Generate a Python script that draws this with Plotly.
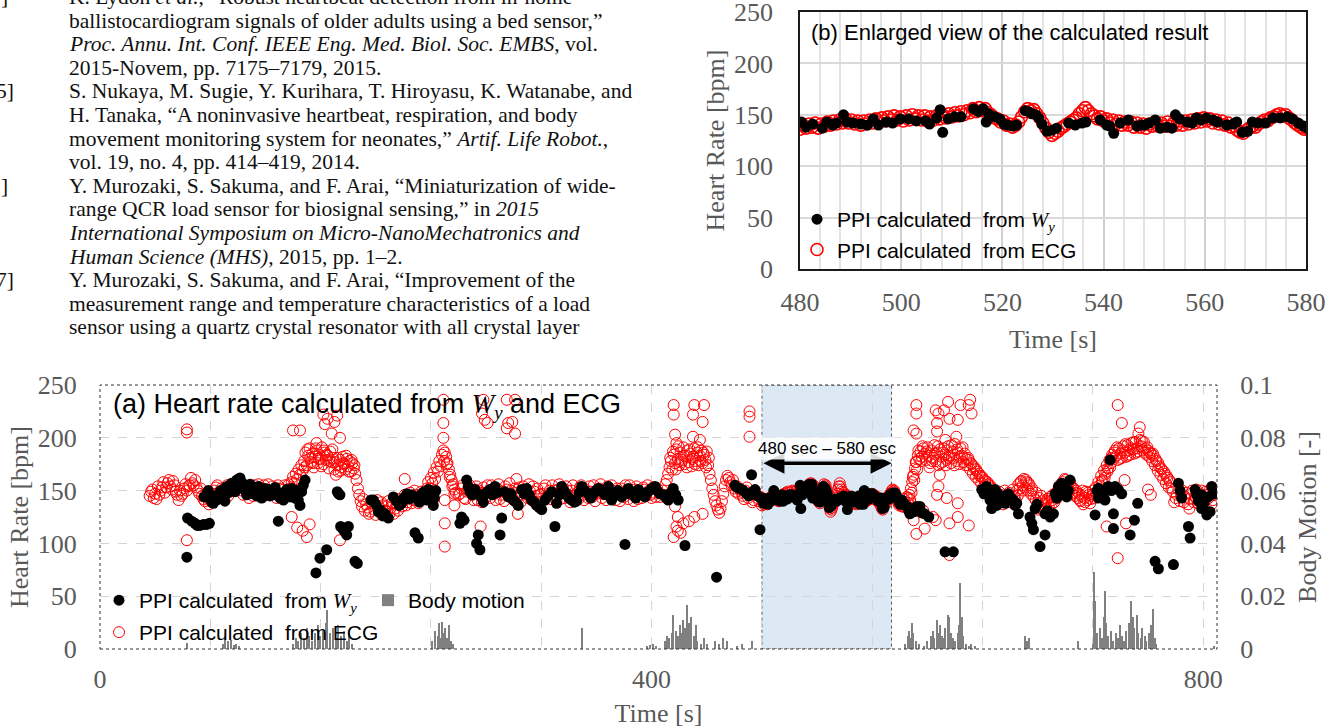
import plotly.graph_objects as go

W, H = 1335, 728
SERIF = "Liberation Serif, Times New Roman, serif"
SANS = "Liberation Sans, Arial, sans-serif"
GRAY = "#595959"

# ---------------- data (time [s], heart rate [bpm]) ----------------
ecg_points = [
    (36,145),(38,151),(40,147),(41,142),(42,154),(44,150),(46,158),(47,148),(48,153),(50,160),(52,151),(54,155),
    (56,146),(57,141),(58,150),(60,147),(62,156),(64,154),(65,155),(66,162),(68,155),(69,160),(70,153),(72,147),
    (74,145),(76,140),(78,144),(80,140),
    (37,149),(39,143),(43,146),(45,153),(49,157),(51,154),(53,159),(55,149),(59,145),(61,152),(63,150),(67,157),
    (71,150),(73,152),(75,142),(77,147),(79,137),(81,144),(83,150),(85,155),(87,149),(89,145),(91,151),(93,145),
    (95,156),(97,150),(99,153),
    (82,147),(84,153),(86,146),(88,152),(90,148),(92,155),(94,149),(96,153),(98,156),(100,160),(101,153),
    (102,157),(104,146),(106,152),(108,143),(110,150),(112,155),(114,147),(116,153),(118,144),(120,151),(122,156),
    (124,146),(126,150),(128,143),(130,152),(132,147),(134,155),(136,145),(138,152),
    (103,150),(105,155),(107,147),(109,154),(111,145),(113,149),(115,156),(117,149),(119,155),(121,146),(123,150),
    (125,154),(127,147),(129,155),(131,144),(133,151),(135,148),(137,156),
    (139,158),(140,163),(141,157),(142,166),(143,161),(144,170),(145,165),(146,174),(147,169),
    (148,178),(149,186),(150,174),(151,183),(152,190),(153,177),(154,185),(155,172),(156,182),(157,188),(158,176),
    (159,184),(160,180),(161,191),(162,175),(163,186),(164,179),(165,183),(166,171),(167,187),(168,177),(169,181),
    (148.5,172),(150.5,189),(152.5,181),(154.5,176),(156.5,190),(158.5,180),(160.5,173),(162.5,188),(164.5,184),
    (166.5,178),(168.5,189),(170.5,177),(172.5,181),(174.5,169),(176.5,176),(178.5,183),(180.5,168),(182.5,179),
    (184.5,174),
    (170,170),(171,165),(172,174),(173,168),(174,179),(175,172),(176,182),(177,175),(178,170),(179,180),(180,173),
    (181,178),(182,168),(183,176),(184,171),(185,166),
    (186,160),(187,152),(188,146),(189,140),(190,135),(191,142),(192,131),(193,137),
    (195,128),(197,138),(199,132),(201,141),(203,129),(205,136),(207,131),(209,140),(211,134),(213,128),(215,137),
    (217,142),(219,135),(221,146),(223,139),(225,148),(227,141),(229,146),(231,138),(233,149),(235,143),
    (194,134),(196,130),(198,140),(200,127),(202,135),(204,139),(206,130),(208,135),(210,128),(212,139),(214,133),
    (216,131),(218,139),(220,141),(222,136),(224,143),(226,138),(228,150),(230,144),(232,141),(234,147),(236,146),
    (237,152),(238,158),(239,152),(240,162),(241,157),(242,167),(243,161),(244,172),(245,168),(246,178),(247,173),
    (248,184),(249,188),(249.5,178),(250,186),(251,182),(251.5,175),(252,176),(253,170),(253.5,163),(254,165),
    (255,160),(255.5,154),(256,156),(257,151),(258,148),(260,146),
    (262,152),(264,143),(266,149),(268,155),(270,146),(272,151),(274,141),(276,148),(278,153),(280,144),(282,150),
    (284,155),(286,147),(288,152),(290,142),(292,149),(294,154),(296,145),(298,150),(300,141),(302,148),(304,153),
    (306,146),(308,151),(310,143),(312,149),(314,154),(316,145),(318,139),(320,147),(322,152),(324,144),(326,150),
    (328,155),(330,146),(332,151),(334,142),(336,148),(338,154),(340,145),(342,150),(344,141),(346,148),(348,153),
    (350,146),(352,151),(354,143),(356,149),(358,155),(360,147),(362,152),(364,143),(366,149),(368,154),(370,145),
    (372,150),(374,141),(376,147),(378,152),(380,144),(382,150),(384,155),(386,146),(388,151),(390,142),(392,148),
    (394,153),(396,145),(398,150),(400,143),(402,148),
    (261,147),(263,155),(265,142),(267,151),(269,148),(271,141),(273,154),(275,150),(277,139),(279,147),(281,155),
    (283,143),(285,148),(287,141),(289,156),(291,146),(293,140),(295,151),(297,157),(299,143),(301,152),(303,145),
    (305,139),(307,154),(309,147),(311,156),(313,141),(315,149),(317,152),(319,146),(321,140),(323,155),(325,147),
    (327,142),(329,150),(331,140),(333,156),(335,149),(337,143),(339,150),(341,139),(343,155),(345,146),(347,142),
    (349,155),(351,141),(353,148),(355,154),(357,144),(359,140),(361,151),(363,156),(365,147),(367,141),(369,150),
    (371,155),(373,146),(375,152),(377,140),(379,148),(381,155),(383,142),(385,149),(387,140),(389,154),(391,147),
    (393,143),(395,151),(397,155),(399,146),(401,153),(403,144),
    (404,152),(406,144),(408,150),(410,156),(411,160),
    (412,166),(413,172),(414,178),(415,170),(416,184),(417,176),(418,189),(419,180),(420,174),(421,186),(422,179),
    (423,191),(424,175),(425,183),(426,188),(427,177),(428,185),(429,173),(430,182),(431,190),(432,178),(433,186),
    (434,174),(435,183),(436,188),(437,176),(438,184),(439,179),(440,187),(441,174),(442,166),
    (413.5,181),(415.5,187),(417.5,170),(419.5,192),(421.5,177),(423.5,183),(425.5,172),(427.5,189),(429.5,180),
    (431.5,175),(433.5,191),(435.5,178),(437.5,186),(439.5,172),(441.5,181),
    (443,160),(444,152),(445,146),(446,140),(447,136),(448,132),(449,129),(450,133),(451,140),(452,147),(453,154),
    (454,160),(455,164),(456,162),(457,158),(458,155),(459,160),(460,152),(461,149),(462,154),(463,147),(464,151),
    (466,145),(468,150),(470,143),(472,148),(474,141),(476,146),(478,140),(479,144),
    (465,149),(467,142),(469,153),(471,146),(473,139),(475,150),(477,143),
    (480.0,136),(480.6,140),(481.2,137),(481.8,141),(482.4,138),(483.0,142),(483.6,137),(484.2,141),(484.8,139),
    (485.4,143),(486.0,140),(486.6,144),(487.2,141),(487.8,145),(488.4,142),(489.0,146),(489.6,142),(490.2,145),
    (490.8,141),(491.4,144),(492.0,140),(492.6,144),(493.2,141),(493.8,145),(494.4,142),(495.0,146),(495.6,143),
    (496.2,147),(496.8,144),(497.4,148),(498.0,145),(498.6,149),(499.2,145),(499.8,148),(500.4,144),(501.0,149),
    (501.6,145),(502.2,150),(502.8,146),(503.4,149),(504.0,145),(504.6,149),(505.2,144),(505.8,148),(506.4,145),
    (507.0,149),(507.6,146),(508.2,150),(508.8,147),(509.4,151),(510.0,148),(510.6,152),(511.2,149),(511.8,153),
    (512.4,150),(513.0,154),(513.6,152),(514.2,156),(514.8,153),(515.4,157),(516.0,154),(516.6,156),(517.2,152),
    (517.8,150),(518.4,147),(519.0,146),(519.6,143),(520.2,144),(520.8,140),(521.4,141),(522.0,138),(522.6,140),
    (523.2,143),(523.8,148),(524.4,153),(525.0,156),(525.6,154),(526.2,155),(526.8,151),(527.4,147),(528.0,142),
    (528.6,137),(529.2,133),(529.8,130),(530.4,132),(531.0,134),(531.6,137),(532.2,139),(532.8,141),(533.4,143),
    (534.0,145),(534.6,147),(535.2,151),(535.8,154),(536.4,157),(537.0,154),(537.6,151),(538.2,149),(538.8,146),
    (539.4,148),(540.0,144),(540.6,146),(541.2,142),(541.8,145),(542.4,141),(543.0,144),(543.6,140),(544.2,143),
    (544.8,140),(545.4,143),(546.0,138),(546.6,142),(547.2,138),(547.8,141),(548.4,137),(549.0,141),(549.6,139),
    (550.2,143),(550.8,139),(551.4,142),(552.0,139),(552.6,143),(553.2,139),(553.8,142),(554.4,140),(555.0,144),
    (555.6,140),(556.2,144),(556.8,141),(557.4,145),(558.0,142),(558.6,146),(559.2,143),(559.8,147),(560.4,144),
    (561.0,146),(561.6,142),(562.2,145),(562.8,141),(563.4,144),(564.0,140),(564.6,142),(565.2,138),(565.8,139),
    (566.4,135),(567.0,133),(567.6,132),(568.2,135),(568.8,137),(569.4,139),(570.0,138),(570.6,141),(571.2,143),
    (571.8,145),(572.4,144),(573.0,147),(573.6,148),(574.2,150),(574.8,151),(575.4,149),(576.0,150),(576.6,147),
    (577.2,145),(577.8,142),(578.4,140),(579.0,138),(579.6,136),(580.2,137),
    (581,140),(582,135),(583,142),(584,137),(585,144),(586,138),(587,146),(588,152),(589,158),(590,165),(591,171),
    (592,177),(593,183),(594,180),(595,187),(596,182),(597,190),(598,185),
    (581.5,135),(583.5,139),(585.5,133),(586.5,143),(587.5,141),(588.5,148),(589.5,163),(590.5,160),(591.5,177),
    (592.5,170),(593.5,188),(595.5,178),(596.5,192),
    (599,179),(600,191),(601,183),(602,176),(603,188),(604,181),(605,193),(606,178),(607,186),(608,174),(609,189),
    (610,182),(611,177),(612,190),(613,184),(614,179),(615,192),(616,183),(617,176),(618,187),(619,181),(620,194),
    (621,178),(622,186),(623,175),(624,190),(625,183),(626,177),(627,185),(628,180),
    (599.5,187),(601.5,172),(603.5,178),(605.5,185),(607.5,192),(609.5,176),(611.5,186),(613.5,174),(615.5,181),
    (617.5,193),(619.5,174),(621.5,189),(623.5,182),(625.5,191),(627.5,174),
    (629,174),(630,179),(631,170),(632,175),(633,166),(634,171),(635,163),(636,168),(637,160),(638,164),(639,157),
    (640,162),(641,154),(642,159),(643,151),(644,156),(645,149),(646,153),(647,147),
    (629.5,181),(631.5,176),(633.5,173),(635.5,170),(637.5,166),(639.5,163),(641.5,160),(643.5,158),(645.5,155),
    (649,150),(651,140),(653,146),(655,137),(657,144),(659,148),(661,139),(663,145),
    (648,145),(650,138),(652,149),(654,141),(656,150),(658,139),(660,145),(662,151),(664,141),
    (665,150),(666,156),(667,152),(668,159),(669,155),(670,161),(671,153),(672,158),(673,150),(674,155),(675,147),
    (676,152),(677,144),
    (665.5,145),(667.5,158),(669.5,150),(671.5,160),(673.5,157),(675.5,150),
    (679,148),(680,138),(681,143),(682,134),(683,140),(684,131),(685,138),(686,133),(687,142),(688,135),(689,144),
    (690,137),(691,146),(692,139),(693,148),(694,143),
    (678.5,141),(680.5,132),(682.5,145),(684.5,137),(686.5,140),(688.5,130),(690.5,141),(692.5,144),
    (695,150),(696,155),(697,149),(698,158),(699,152),(700,160),(701,154),(702,157),(703,150),(704,155),(705,147),
    (706,152),(707,145),(708,150),(709,143),
    (695.5,146),(697.5,156),(699.5,161),(701.5,150),(703.5,158),(705.5,152),(707.5,148),
    (710,147),(711,140),(712,145),(713,137),(714,143),(715,149),(716,141),(717,146),(718,138),(719,145),(720,150),
    (721,143),
    (710.5,141),(712.5,150),(714.5,139),(716.5,148),(718.5,142),(720.5,146),
    (722,153),(723,148),(724,158),(725,155),(726,164),(727,160),(728,169),(729,166),(730,174),(731,171),(732,179),
    (733,176),(734,184),
    (722.5,148),(724.5,152),(726.5,158),(728.5,162),(730.5,168),(732.5,172),(733.5,181),
    (735,180),(736,188),(737,183),(738,179),(739,190),(740,185),(741,181),(742,192),(743,186),(744,182),(745,193),
    (746,188),(747,184),(748,195),(749,189),(750,185),(751,196),(752,190),(753,187),(754,198),(755,192),(756,188),
    (757,196),(758,190),(759,184),(760,188),(761,182),(762,185),
    (735.5,186),(737.5,191),(739.5,180),(741.5,188),(743.5,194),(745.5,183),(747.5,190),(749.5,196),(751.5,186),
    (753.5,192),(755.5,197),(757.5,186),(759.5,191),(761.5,186),
    (763,178),(764,183),(765,174),(766,178),(767,169),(768,173),(769,165),(770,170),(771,161),(772,166),(773,157),
    (774,162),(775,153),(776,158),
    (763.5,185),(765.5,180),(767.5,176),(769.5,171),(771.5,168),(773.5,164),(775.5,160),
    (778,149),(780,143),(782,151),(784,145),(786,139),(788,148),(790,142),(792,150),(794,144),(796,138),(798,147),
    (800,141),(802,149),(804,143),(806,137),(808,146),
    (777,152),(779,139),(781,146),(783,140),(785,150),(787,144),(789,137),(791,147),(793,139),(795,151),(797,143),
    (799,150),(801,138),(803,146),(805,151),(807,141),
]

ecg_outliers = [
    (63,205),(63,208),(63,103),
    (140,207),(145,207),(157,195),(162,222),(165,218),(168,204),(170,215),(172,221),(174,200),(163,213),
    (139,125),(143,115),(147,112),(150,106),(152,118),(174,103),
    (221,161),(249,236),(249,214),(249,200),(250,141),(250,119),(250,97),(257,147),(257,136),(276,116),
    (277,223),(278,236),(279,217),(281,214),(295,236),(301,236),(296,214),(295,209),(301,204),(299,215),
    (302,161),(303,128),
    (416,231),(416,222),(431,231),(438,231),(430,222),(437,215),(430,201),(435,198),(417,203),(418,195),
    (417,135),(419,125),(418,116),(421,110),(423,119),(427,121),(431,125),(437,128),(416,106),(419,112),
    (471,225),(471,220),(471,201),
    (592,231),(592,223),(590,207),(592,204),(590,122),(592,109),(597,131),
    (606,226),(607,214),(607,206),(608,223),(612,226),(615,234),(616,218),(622,217),(624,231),(630,231),
    (631,236),(632,223),(621,201),(613,198),
    (598,114),(604,125),(606,122),(616,119),(622,125),(630,117),(609,165),(608,154),(607,146),(614,143),
    (622,138),(616,89),
    (738,231),(741,214),(754,210),(753,204),(743,160),(730,116),(744,119),(738,86),(762,146),(760,151),(790,133),
]

wy_points = [
    (63.0,87),(63.5,124),(66.5,121),(68.9,119),(70.5,117),(72.5,117),(75.0,118),(77.4,118),(79.3,119),
    (75.5,144),(77.4,147),(78.5,150),(79.8,143),(81.0,139),(82.2,138),(83.5,145),(84.6,141),(86.0,146),(87.5,150),
    (88.5,144),(90.6,140),(91.9,154),(93.2,148),(94.3,151),(95.5,157),(96.8,153),(98.0,149),(99.1,160),(100.3,155),
    (101.5,162),(102.7,158),(104.0,154),(105.2,150),(106.4,146),(107.6,151),(108.8,156),(110.0,149),(111.2,147),
    (112.4,152),(113.6,145),(114.8,154),(116.0,148),(117.2,143),(118.4,147),(119.6,152),(120.8,146),(122.0,151),
    (123.2,145),(124.4,149),(125.7,146),(127.0,153),(128.2,147),(129.3,121),(130.5,143),(131.7,147),(133.0,141),
    (134.2,149),(135.4,151),(136.6,146),(137.8,144),(139.0,152),(140.2,147),(141.4,143),(142.6,150),(143.8,141),
    (145.0,136),(146.2,149),(147.4,155),(148.7,160),
    (156.6,72),(159.5,86),(164.4,94),
    (172.1,149),(173.0,147),(174.0,146),(174.5,116),(176.5,113),(177.7,111),(178.9,108),(180.1,116),(184.9,83),
    (186.6,81),
    (196.5,141),(198.2,141),(200.0,137),(201.8,130),(203.0,132),(205.0,126),(206.7,128),(209.1,124),
    (212.7,144),(215.0,140),(217.0,136),(218.7,138),(220.5,143),(222.4,147),(224.0,142),(226.0,146),(228.4,110),
    (229.6,143),(230.8,105),(231.5,139),(233.2,147),(235.0,149),(236.9,141),(238.1,151),(239.8,145),(241.7,136),
    (242.5,143),(243.5,150),
    (261.0,119),(262.2,125),(264.0,122),(265.9,160),(267.0,154),(268.3,149),(270.0,146),(271.9,151),(273.1,100),
    (274.3,108),(275.5,94),(275.0,146),(276.8,143),(278.0,139),(279.2,147),(281.0,149),(282.8,151),(284.5,146),
    (286.4,154),(288.0,148),(290.1,108),(291.3,124),(293.5,149),(296.1,144),(298.0,147),(299.7,141),(301.5,139),
    (303.3,136),(305.8,151),(307.5,147),(309.4,152),(311.2,146),(313.0,141),(314.8,139),(316.6,136),(318.5,134),
    (320.3,132),(322.7,141),(325.0,145),(327.5,149),(329.9,116),(331.1,138),(333.0,146),(334.8,154),(336.5,150),
    (338.4,146),(340.0,143),(342.0,141),(344.0,139),(345.6,140),(347.5,148),(349.3,154),(351.5,150),(354.1,147),
    (355.8,143),(357.7,147),(359.5,150),(361.4,152),(363.8,149),(366.2,146),(368.6,154),(370.0,149),(371.0,141),
    (372.2,144),(373.4,146),(375.5,150),(378.3,144),(380.7,99),(381.5,147),(383.1,152),(385.0,149),(386.7,146),
    (388.5,143),(390.4,151),(392.5,148),(395.2,144),(397.5,149),(400.0,152),(402.5,154),
    (404.0,150),(406.0,147),(408.5,146),(410.5,143),(412.1,141),(414.0,148),(415.7,152),(417.5,146),(419.3,141),
    (424.2,98),(447.1,68),
    (460.4,155),(462.0,153),(464.1,152),(466.5,150),(468.9,147),(470.5,145),(472.5,165),(473.5,149),(475.0,151),
    (476.8,145),(478.6,113),(479.0,143),
    (480.3,143),(481.2,138),(482.5,141),(484.4,137),(485.3,143),(486.5,140),(487.2,142),(488.6,150),(489.3,143),
    (490.5,142),(492.0,141),(493.3,140),(494.5,146),(495.5,140),(497.1,143),(498.3,142),(499.8,146),(501.5,146),
    (503.0,144),(504.8,144),(505.6,141),(507.0,147),(507.7,155),(508.2,133),(509.3,146),(510.5,148),(511.8,148),
    (514.3,156),(515.3,153),(516.2,156),(516.8,143),(517.3,151),(518.5,148),(519.5,146),(520.3,141),(521.0,140),
    (522.0,139),(522.8,140),(524.5,154),(525.2,153),(525.8,151),(526.6,150),(527.2,147),(527.8,141),(528.8,134),
    (529.8,135),(530.7,137),(533.1,142),(534.4,140),(535.7,142),(536.5,143),(539.3,145),(540.6,140),(541.2,139),
    (542.0,132),(543.3,142),(544.9,145),(546.6,139),(547.5,140),(548.2,140),(549.0,142),(550.2,145),(551.2,137),
    (552.5,138),(553.5,137),(554.2,150),(555.0,146),(556.5,143),(557.5,142),(558.3,147),(559.3,145),(560.3,147),
    (561.6,145),(562.5,143),(564.3,140),(565.6,141),(566.3,143),(567.4,133),(568.5,134),(569.4,143),(570.5,142),
    (572.0,142),(573.5,147),(574.9,147),(576.3,148),(577.3,146),(578.5,142),(579.5,139),(580.3,137),
    (581.5,141),(583.0,138),(585.0,135),(586.5,131),(587.3,128),(589.0,133),(590.5,130),(592.2,135),(594.6,135),
    (596.0,129),(598.0,128),(601.0,125),
    (612.8,92),(618.8,92),
    (639.4,151),(641.0,147),(643.0,154),(644.2,148),(645.4,141),(646.6,146),(646.6,133),(648.0,144),(649.1,151),
    (650.3,136),(651.5,147),(652.7,143),(654.5,140),(656.3,138),(657.5,144),(658.7,147),(660.5,143),(662.4,141),
    (663.5,136),(664.8,138),(666.0,128),
    (674.4,125),(675.7,119),(676.9,113),(678.1,133),(679.5,137),(681.7,97),(685.3,108),(685.3,128),(687.0,131),
    (689.0,125),(691.4,128),(692.6,147),(693.8,143),(695.0,154),(696.2,149),(697.4,157),(699.0,151),(701.0,144),
    (702.2,150),(703.4,160),
    (721.6,127),(723.0,150),(724.0,152),(724.0,143),(726.5,145),(728.8,141),(730.0,150),(731.2,154),(732.5,179),
    (733.5,150),(734.9,128),(734.9,114),(736.1,154),(738.5,151),(740.9,147),(747.0,108),(750.1,122),(752.5,138),
    (765.1,83),(767.5,76),(778.4,80),
    (782.0,157),(783.2,150),(784.4,143),(789.3,116),(790.5,105),(794.1,151),(795.3,146),(796.5,140),(797.7,144),
    (798.9,146),(798.9,133),(800.5,138),(802.6,127),(803.8,144),(805.0,130),(806.2,154),(807.4,150),(808.6,147),
]

# body motion (time [s], value [-])
motion_points = [
    (63,0.0023),
    (89,0.002),(91,0.004),(93,0.003),(95,0.0035),(97,0.0015),(99,0.002),(101,0.001),
    (140,0.002),(142,0.004),(144,0.003),(146,0.006),(148,0.004),(150,0.008),(152,0.005),(154,0.003),(156,0.006),
    (158,0.009),(160,0.005),(162,0.007),(164,0.01),(165,0.0148),(167,0.006),(169,0.008),(171,0.004),(173,0.009),
    (175,0.005),(177,0.007),(179,0.003),(181,0.006),(183,0.002),
    (241,0.003),(243,0.007),(245,0.005),(246,0.01),(247,0.004),(248,0.0102),(249,0.006),(250,0.008),(252,0.004),
    (253,0.009),(255,0.003),(256,0.002),
    (350,0.008),
    (397,0.001),(399,0.0015),(401,0.002),(403,0.001),
    (410,0.003),(411,0.005),(413,0.004),(415,0.006),(416,0.013),(418,0.007),(419,0.005),(421,0.009),(422,0.006),
    (423,0.011),(424,0.008),(426,0.0167),(427,0.01),(428,0.007),(429,0.012),(431,0.005),(432,0.009),(433,0.003),
    (436,0.002),(438,0.004),(440,0.002),(446,0.003),(449,0.002),(452,0.004),(455,0.003),(462,0.001),(466,0.002),
    (473,0.003),
    (584,0.002),(586,0.005),(587,0.007),(588,0.004),(589,0.0098),(590,0.006),(592,0.003),(594,0.002),
    (598,0.001),(600,0.003),(603,0.005),(604,0.007),(605,0.004),(607,0.011),(608,0.006),(609,0.009),(611,0.005),
    (612,0.004),(613,0.008),(615,0.013),(616,0.012),(617,0.006),(619,0.004),(620,0.003),(622,0.006),(623,0.009),
    (624,0.025),(625,0.012),(626,0.005),(628,0.002),(630,0.001),(632,0.002),(635,0.001),
    (671,0.005),(672,0.003),(674,0.004),(709,0.003),
    (720,0.002),(721,0.029),(722,0.018),(723,0.006),(725,0.008),(727,0.004),(728,0.012),(729,0.022),(730,0.01),
    (731,0.005),(733,0.007),(735,0.003),(737,0.006),(738,0.004),(740,0.009),(741,0.005),(743,0.003),(744,0.007),
    (746,0.01),(747,0.006),(748,0.018),(749,0.012),(750,0.008),(752,0.013),(753,0.006),(755,0.004),(756,0.008),
    (758,0.005),(759,0.003),(761,0.006),(762,0.009),(764,0.015),(765,0.004),(766,0.002),
    (808,0.001),
]

hr_ticks = [0, 50, 100, 150, 200, 250]
time_ticks_a = [0, 400, 800]
time_ticks_b = [480, 500, 520, 540, 560, 580]
motion_ticks = [0, 0.02, 0.04, 0.06, 0.08, 0.1]
motion_ticktext = ["0", "0.02", "0.04", "0.06", "0.08", "0.1"]
zoom_window = (480, 574)

# (bracket tag, tag right edge px, line text, line centre y px)
reference_lines = [
    ("]", 10, "K. Lydon <i>et al.</i>, \u201cRobust heartbeat detection from in-home", -3),
    ("", 0, "ballistocardiogram signals of older adults using a bed sensor,\u201d", 20.6),
    ("", 0, "<i>Proc. Annu. Int. Conf. IEEE Eng. Med. Biol. Soc. EMBS</i>, vol.", 44.2),
    ("", 0, "2015-Novem, pp. 7175\u20137179, 2015.", 67.8),
    ("5]", 16, "S. Nukaya, M. Sugie, Y. Kurihara, T. Hiroyasu, K. Watanabe, and", 91.4),
    ("", 0, "H. Tanaka, \u201cA noninvasive heartbeat, respiration, and body", 115.0),
    ("", 0, "movement monitoring system for neonates,\u201d <i>Artif. Life Robot.</i>,", 138.6),
    ("", 0, "vol. 19, no. 4, pp. 414\u2013419, 2014.", 162.2),
    ("]", 10, "Y. Murozaki, S. Sakuma, and F. Arai, \u201cMiniaturization of wide-", 185.8),
    ("", 0, "range QCR load sensor for biosignal sensing,\u201d in <i>2015</i>", 209.4),
    ("", 0, "<i>International Symposium on Micro-NanoMechatronics and</i>", 233.0),
    ("", 0, "<i>Human Science (MHS)</i>, 2015, pp. 1\u20132.", 256.6),
    ("7]", 16, "Y. Murozaki, S. Sakuma, and F. Arai, \u201cImprovement of the", 280.2),
    ("", 0, "measurement range and temperature characteristics of a load", 303.8),
    ("", 0, "sensor using a quartz crystal resonator with all crystal layer", 327.4),
]

# ---------------- helpers ----------------
def px(x):
    return x / W

def py(y):
    return 1 - y / H

ecg_all = ecg_points + ecg_outliers
ecg_t = [p[0] for p in ecg_all]
ecg_hr = [p[1] for p in ecg_all]
wy_t = [p[0] for p in wy_points]
wy_hr = [p[1] for p in wy_points]
mo_t = [p[0] for p in motion_points]
mo_v = [p[1] for p in motion_points]

b_ecg = [p for p in ecg_all if 479 <= p[0] <= 581]
b_wy = [p for p in wy_points if 479 <= p[0] <= 581]

WY = '<span style="font-family:Liberation Serif"><i>W<sub>y</sub></i></span>'
LBL_WY = "PPI calculated\u00a0 from " + WY
LBL_ECG = "PPI calculated\u00a0 from ECG"

fig = go.Figure()

# (a) main chart
fig.add_trace(go.Bar(
    x=mo_t, y=mo_v, xaxis="x", yaxis="y2", width=1.0, name="Body motion",
    marker=dict(color="#808080", line=dict(width=0)), legend="legend", legendrank=2))
fig.add_trace(go.Scatter(
    x=ecg_t, y=ecg_hr, mode="markers", xaxis="x", yaxis="y", name=LBL_ECG,
    marker=dict(symbol="circle-open", size=11, color="#ff0000", line=dict(width=1)),
    legend="legend2"))
fig.add_trace(go.Scatter(
    x=wy_t, y=wy_hr, mode="markers", xaxis="x", yaxis="y", name=LBL_WY,
    marker=dict(symbol="circle", size=11, color="#000000"), legend="legend", legendrank=1))

# (b) enlarged chart
fig.add_trace(go.Scatter(
    x=[p[0] for p in b_ecg], y=[p[1] for p in b_ecg], mode="markers", xaxis="x2", yaxis="y3",
    name=LBL_ECG, marker=dict(symbol="circle-open", size=12, color="#ff0000", line=dict(width=1.6)),
    legend="legend3", legendrank=2))
fig.add_trace(go.Scatter(
    x=[p[0] for p in b_wy], y=[p[1] for p in b_wy], mode="markers", xaxis="x2", yaxis="y3",
    name=LBL_WY, marker=dict(symbol="circle", size=11, color="#000000"),
    legend="legend3", legendrank=1))

tickfont = dict(family=SERIF, size=26, color=GRAY)
titlefont = dict(family=SERIF, size=26, color=GRAY)
legfont = dict(family=SANS, size=21, color="#000000")

fig.update_layout(
    width=W, height=H, autosize=False,
    margin=dict(l=0, r=0, t=0, b=0, autoexpand=False),
    paper_bgcolor="white", plot_bgcolor="white",
    hovermode=False, bargap=0,
    xaxis=dict(
        domain=[px(100), px(1217)], range=[0, 810], anchor="y",
        tickmode="array", tickvals=time_ticks_a, ticks="outside", ticklen=7,
        tickcolor="rgba(0,0,0,0)", tickfont=tickfont, ticklabeloverflow="allow",
        showgrid=True, gridcolor="#d4d4d4", griddash="dash", gridwidth=1,
        minor=dict(tickmode="linear", tick0=0, dtick=80, showgrid=True, gridcolor="#d4d4d4",
                   griddash="dash", gridwidth=1, ticks=""),
        zeroline=False, showline=False, automargin=False,
        title=dict(text="Time [s]", font=titlefont, standoff=18),
    ),
    yaxis=dict(
        domain=[py(649), py(385)], range=[0, 250], anchor="x",
        tickmode="array", tickvals=hr_ticks, ticks="outside", ticklen=17,
        tickcolor="rgba(0,0,0,0)", tickfont=tickfont, ticklabeloverflow="allow",
        showgrid=True, gridcolor="#d4d4d4", griddash="dash", gridwidth=1,
        zeroline=False, showline=False, automargin=False,
        title=dict(text="Heart Rate [bpm]", font=titlefont, standoff=1),
    ),
    yaxis2=dict(
        overlaying="y", side="right", anchor="x", range=[0, 0.1],
        tickmode="array", tickvals=motion_ticks, ticktext=motion_ticktext,
        ticks="outside", ticklen=17, tickcolor="rgba(0,0,0,0)", tickfont=tickfont,
        ticklabeloverflow="allow",
        showgrid=False, zeroline=False, showline=False, automargin=False,
        title=dict(text="Body Motion [-]", font=titlefont, standoff=13),
    ),
    xaxis2=dict(
        domain=[px(800), px(1306)], range=[480, 580], anchor="y3",
        tickmode="array", tickvals=time_ticks_b, ticks="outside", ticklen=9,
        tickcolor="rgba(0,0,0,0)", tickfont=tickfont, ticklabeloverflow="allow",
        showgrid=True, gridcolor="#d0d0d0", gridwidth=1.5,
        minor=dict(tickmode="linear", tick0=480, dtick=4, showgrid=True, gridcolor="#e3e3e3",
                   gridwidth=1.5, ticks=""),
        zeroline=False, showline=True, mirror=True, linecolor="#1a1a1a", linewidth=1.5,
        automargin=False,
        title=dict(text="Time [s]", font=titlefont, standoff=14),
    ),
    yaxis3=dict(
        domain=[py(269), py(12)], range=[0, 250], anchor="x2",
        tickmode="array", tickvals=hr_ticks, ticks="outside", ticklen=20,
        tickcolor="rgba(0,0,0,0)", tickfont=tickfont, ticklabeloverflow="allow",
        showgrid=True, gridcolor="#d9d9d9", gridwidth=1.5,
        zeroline=False, showline=True, mirror=True, linecolor="#1a1a1a", linewidth=1.5,
        automargin=False,
        title=dict(text="Heart Rate [bpm]", font=titlefont, standoff=2),
    ),
    legend=dict(
        orientation="h", x=px(99), xanchor="left", y=py(580), yanchor="top",
        bgcolor="rgba(0,0,0,0)", borderwidth=0, font=legfont,
        entrywidth=224, entrywidthmode="pixels", itemclick=False,
    ),
    legend2=dict(
        orientation="h", x=px(99), xanchor="left", y=py(612), yanchor="top",
        bgcolor="rgba(0,0,0,0)", borderwidth=0, font=legfont, itemclick=False,
    ),
    legend3=dict(
        orientation="v", x=px(797), xanchor="left", y=py(199), yanchor="top",
        bgcolor="rgba(0,0,0,0)", borderwidth=0, font=legfont, itemclick=False,
    ),
)

# highlighted window and dashed frame of (a)
fig.add_shape(type="rect", xref="x", yref="y", x0=zoom_window[0], x1=zoom_window[1], y0=0, y1=250,
              fillcolor="#dde8f5", line=dict(color="#555555", width=1, dash="dot"), layer="below")
fig.add_shape(type="rect", xref="x domain", yref="y domain", x0=0, x1=1, y0=0, y1=1,
              fillcolor="rgba(0,0,0,0)", line=dict(color="#333333", width=1, dash="dot"), layer="above")

annotations = []
# double arrow + label
annotations.append(dict(
    xref="x", yref="y", axref="x", ayref="y", x=zoom_window[1], y=176, ax=zoom_window[0], ay=176,
    text="", showarrow=True, arrowhead=2, startarrowhead=2, arrowside="end+start",
    arrowsize=1.2, startarrowsize=1.2, arrowwidth=3.5, arrowcolor="#000000", standoff=0, startstandoff=0))
annotations.append(dict(
    xref="x", yref="y", x=(zoom_window[0] + zoom_window[1]) / 2, y=190,
    text="480 sec \u2013 580 esc", showarrow=False,
    font=dict(family=SANS, size=17, color="#000000"), bgcolor="rgba(255,255,255,0.85)"))
# panel titles
annotations.append(dict(
    xref="paper", yref="paper", x=px(111), y=py(406), xanchor="left", yanchor="middle",
    text="(a) Heart rate calculated from " + WY + " and ECG", showarrow=False,
    font=dict(family=SANS, size=27, color="#000000")))
annotations.append(dict(
    xref="paper", yref="paper", x=px(809), y=py(33), xanchor="left", yanchor="middle",
    text="(b) Enlarged view of the calculated result", showarrow=False,
    font=dict(family=SANS, size=22, color="#000000")))
# reference list text (top-left)
for tag, tag_x, line, yc in reference_lines:
    annotations.append(dict(
        xref="paper", yref="paper", x=px(67), y=py(yc), xanchor="left", yanchor="middle",
        text=line, showarrow=False, font=dict(family=SERIF, size=21.5, color="#111111")))
    if tag:
        annotations.append(dict(
            xref="paper", yref="paper", x=px(tag_x), y=py(yc), xanchor="right", yanchor="middle",
            text=tag, showarrow=False, font=dict(family=SERIF, size=21.5, color="#111111")))

fig.update_layout(annotations=annotations)

fig.write_html("out.html", config={"displayModeBar": False})
